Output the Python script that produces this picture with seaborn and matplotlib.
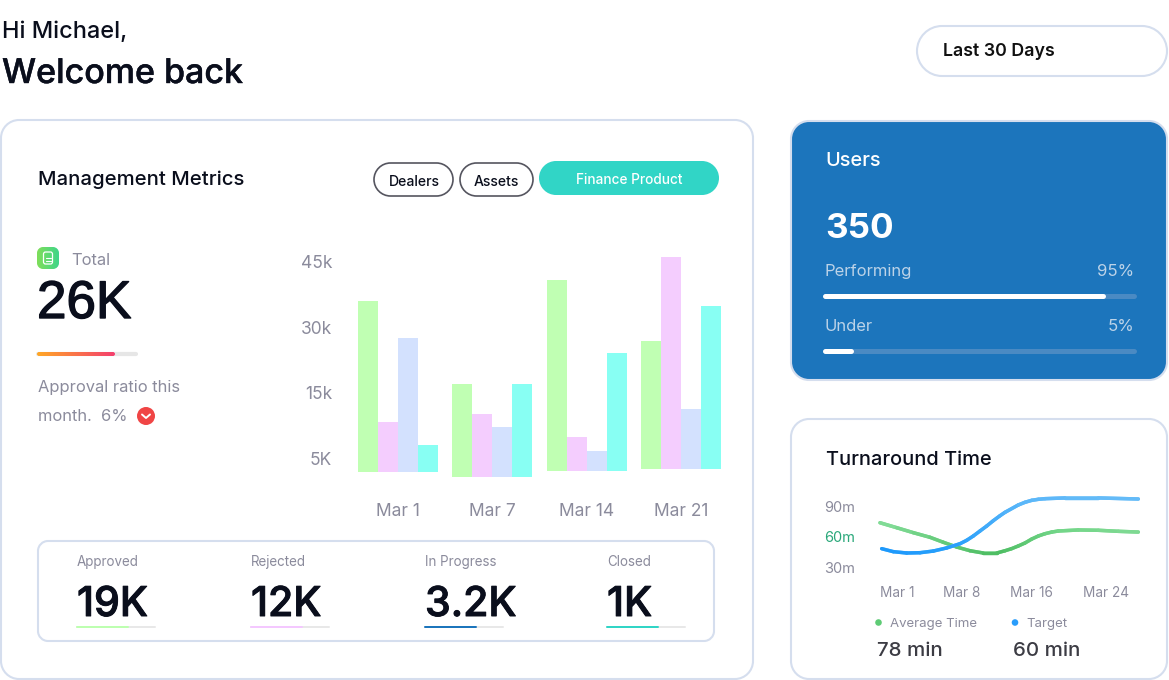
# Dashboard mock-up: management metrics bars, users card and turnaround lines.

import matplotlib

matplotlib.use("Agg")

import matplotlib.patheffects as pe
import matplotlib.pyplot as plt
import numpy as np
import pandas as pd
import seaborn as sns
from matplotlib.collections import LineCollection
from matplotlib.colors import to_rgb
from matplotlib.patches import Circle, PathPatch
from matplotlib.path import Path

WIDTH, HEIGHT = 1169, 680

BAR_DATES = ["Mar 1", "Mar 7", "Mar 14", "Mar 21"]
BAR_SERIES = ["Approved", "Rejected", "In Progress", "Closed"]
APPROVED = [39.1, 21.2, 43.6, 29.4]
REJECTED = [11.4, 14.3, 7.7, 48.5]
IN_PROGRESS = [30.5, 11.4, 4.5, 13.8]
CLOSED = [6.1, 21.2, 26.9, 37.4]
GROUP_BASELINES = [-3.0, -4.2, -2.8, -2.5]
BAR_COLORS = ["#c0ffb3", "#f4cdfe", "#d3e1fe", "#88fff3"]
BAR_TICKS = [0, 15, 30, 45]
BAR_TICK_LABELS = ["5K", "15k", "30k", "45k"]

# Turnaround time lines
AVG_DAYS = [-0.9, 0.97, 2.82, 4.69, 6.17, 7.67, 9.16, 10.64, 12.14, 13.07, 13.8, 14.55,
            15.3, 16.05, 16.8, 17.54, 18.3, 19.02, 21.26, 23.49, 25.73, 27.96]
AVG_TIME = [73.8, 69.0, 64.2, 59.7, 54.9, 50.3, 46.7, 44.5, 44.5, 46.7, 48.7, 51.3,
            54.2, 58.0, 61.0, 63.2, 64.8, 65.8, 66.8, 66.5, 65.5, 64.8]
TARGET_DAYS = [-0.71, 0.59, 2.08, 3.57, 5.06, 6.55, 8.04, 8.79, 9.53, 10.27, 11.02, 11.76,
               12.51, 13.07, 14.55, 15.3, 16.05, 16.8, 17.54, 19.77, 23.49, 27.96]
TARGET_TIME = [48.7, 45.8, 44.5, 44.8, 46.4, 49.4, 53.5, 56.8, 61.0, 65.8, 70.6, 75.8,
               80.6, 83.9, 91.0, 93.6, 95.5, 96.5, 97.1, 97.8, 97.8, 96.8]
LINE_TICKS = [1, 8.26, 16.06, 24.33]
LINE_TICK_LABELS = ["Mar 1", "Mar 8", "Mar 16", "Mar 24"]
LINE_Y_TICKS = [30, 60, 90]
LINE_Y_LABELS = ["30m", "60m", "90m"]
# colour along each line: day, colour
AVG_STOPS = ([-1, 12, 19, 28], ["#86de9b", "#4cbc61", "#72d588", "#80da93"])
TARGET_STOPS = ([-1, 8, 15, 28], ["#1b98fc", "#2aa0fb", "#5bb7f9", "#66bcf8"])

# Summary strip
STRIP_LABELS = ["Approved", "Rejected", "In Progress", "Closed"]
STRIP_VALUES = ["19K", "12K", "3.2K", "1K"]
STRIP_FILL = [0.65, 0.65, 0.65, 0.65]
STRIP_COLORS = ["#bdffb0", "#f4c8ff", "#1c75bc", "#31d5c6"]
STRIP_X = [77, 251, 425, 607]

# Users card
USER_LABELS = ["Performing", "Under"]
USER_PERCENT = ["95%", "5%"]
USER_FILL = [0.90, 0.085]

TOTAL_FILL = 0.78

INK = "#0a0e1c"
GREY = "#8b8b9c"
BORDER = "#d5deee"
BLUE_CARD = "#1c75bc"
TEAL = "#31d5c6"

FONT = "Inter"
KAPPA = 0.5523


def card(ax, x0, y0, x1, y1, r, face="white", edge=BORDER, lw=1.2, zorder=2):
    k = r * (1 - KAPPA)
    verts = [
        (x0 + r, y0), (x1 - r, y0),
        (x1 - k, y0), (x1, y0 + k), (x1, y0 + r),
        (x1, y1 - r),
        (x1, y1 - k), (x1 - k, y1), (x1 - r, y1),
        (x0 + r, y1),
        (x0 + k, y1), (x0, y1 - k), (x0, y1 - r),
        (x0, y0 + r),
        (x0, y0 + k), (x0 + k, y0), (x0 + r, y0),
    ]
    codes = [Path.MOVETO, Path.LINETO] + [Path.CURVE4] * 3 + [Path.LINETO] + [Path.CURVE4] * 3
    codes += [Path.LINETO] + [Path.CURVE4] * 3 + [Path.LINETO] + [Path.CURVE4] * 3
    box = PathPatch(Path(verts, codes), facecolor=face, edgecolor=edge, linewidth=lw, zorder=zorder)
    ax.add_patch(box)
    return box


def label(ax, x, y, text, px, color=INK, weight="normal", ha="left", va="baseline",
          family=FONT, stroke=0):
    # px is the font height in image pixels (dpi is 100)
    t = ax.text(x, y, text, fontsize=px * 0.72, color=color, fontweight=weight,
                ha=ha, va=va, family=family, zorder=6)
    if stroke:
        # the big figures are heavier in the design than the installed weights
        t.set_path_effects([pe.withStroke(linewidth=stroke, foreground=color)])


def progress(ax, x0, x1, y, fill, color, track, px):
    lw = px * 0.72
    ax.plot([x0, x1], [y, y], color=track, lw=lw, solid_capstyle="round", zorder=4)
    ax.plot([x0, x0 + fill * (x1 - x0)], [y, y], color=color, lw=lw, solid_capstyle="round", zorder=5)


def gradient_box(ax, x0, y0, x1, y1, radius, left, right):
    colors = np.linspace(to_rgb(left), to_rgb(right), 64).reshape(1, 64, 3)
    image = ax.imshow(colors, extent=(x0, x1, y1, y0), aspect="auto", zorder=3)
    clip = card(ax, x0, y0, x1, y1, radius, face="none", edge="none", lw=0)
    image.set_clip_path(clip)


sns.set_theme(style="white")
plt.rcParams["font.family"] = [FONT, "DejaVu Sans"]

fig = plt.figure(figsize=(WIDTH / 100, HEIGHT / 100), dpi=100, facecolor="white")

# full-size axes in image pixels for the cards and the text
page = fig.add_axes([0, 0, 1, 1])
page.set_axis_off()

# header
label(page, 2, 38, "Hi Michael,", 23.5, weight="medium")
label(page, 2, 83, "Welcome back", 34, weight="medium", stroke=0.3)
card(page, 917, 26, 1167, 76, 25, lw=1.5)
label(page, 943, 56, "Last 30 Days", 17.8, color="#111111", weight="semibold")

# cards
card(page, 1, 120, 753, 679, 18, lw=1.5)
card(page, 791, 121, 1167, 380, 18, face=BLUE_CARD, lw=1.5)
card(page, 791, 419, 1167, 679, 18, lw=1.5)
card(page, 38, 541, 714, 641, 10, lw=1.5)

# management metrics header
label(page, 37.5, 185, "Management Metrics", 20.3, weight="medium")
card(page, 374, 163, 453, 196, 16.5, edge="#55555f", lw=1.2)
card(page, 460, 163, 533, 196, 16.5, edge="#55555f", lw=1.2)
card(page, 539, 161, 719, 195, 17, face=TEAL, edge=TEAL, lw=0)
label(page, 414, 185.5, "Dealers", 14, ha="center", weight="medium")
label(page, 496.5, 185.5, "Assets", 14, ha="center", weight="medium")
label(page, 629, 184, "Finance Product", 13.6, color="white", ha="center", weight="medium")

# total block
gradient_box(page, 37, 247, 59, 269, 6, "#7fde5a", "#3fd58a")
card(page, 43.5, 252, 52.5, 264, 2, face="none", edge="white", lw=0.9, zorder=5)
page.plot([45.5, 50.5], [258, 258], color="white", lw=0.8, zorder=5)
page.plot([45.5, 50.5], [261, 261], color="white", lw=0.8, zorder=5)
label(page, 71, 265, "Total", 16.5, color=GREY)
label(page, 37, 318, "26K", 53, family="Liberation Sans", stroke=1.0)

page.plot([38, 136], [354, 354], color="#e6e6e6", lw=3, solid_capstyle="round", zorder=2)
gradient_box(page, 37, 352, 37 + TOTAL_FILL * 100, 356, 2, "#ffa726", "#f43f6e")

label(page, 38, 392, "Approval ratio this", 16.5, color=GREY)
label(page, 38, 421, "month.  6%", 16.5, color=GREY)
page.add_patch(Circle((146, 416), 9, facecolor="#f04545", edgecolor="none", zorder=4))
page.plot([142, 146, 150], [414.5, 418, 414.5], color="white", lw=1.4,
          solid_capstyle="round", solid_joinstyle="round", zorder=5)

# summary strip
for x, name, value, fill, color in zip(STRIP_X, STRIP_LABELS, STRIP_VALUES, STRIP_FILL, STRIP_COLORS):
    label(page, x, 566, name, 13.4, color=GREY)
    label(page, x, 616, value, 41, weight="medium", stroke=0.7)
    progress(page, x, x + 78, 627, fill, color, "#e8e8e8", 2)

# users card
label(page, 825, 166, "Users", 20, color="white", weight="medium")
label(page, 825, 238, "350", 35, color="white", weight="bold")
for y, name, percent, fill in zip([276, 331], USER_LABELS, USER_PERCENT, USER_FILL):
    label(page, 825, y, name, 16.6, color="#bcd3e8")
    label(page, 1134, y, percent, 16.8, color="#bcd3e8", ha="right")
    progress(page, 825, 1134, y + 19.5, fill, "white", "#4a8ac3", 5)

# turnaround card text
label(page, 825.5, 465, "Turnaround Time", 20, weight="medium")
page.add_patch(Circle((878.5, 622.5), 3.3, facecolor="#5ecb75", edgecolor="none", zorder=4))
page.add_patch(Circle((1015, 622.5), 3.3, facecolor="#2a9dfb", edgecolor="none", zorder=4))
label(page, 890, 627.5, "Average Time", 13.2, color=GREY)
label(page, 1026, 627.5, "Target", 13.2, color=GREY)
label(page, 877, 656.5, "78 min", 20.5, color="#3c3c44", weight="medium")
label(page, 1013, 656.5, "60 min", 20.5, color="#3c3c44", weight="medium")

page.set_xlim(0, WIDTH)
page.set_ylim(HEIGHT, 0)


def pixel_axes(x0, y0, x1, y1):
    ax = fig.add_axes([x0 / WIDTH, 1 - y1 / HEIGHT, (x1 - x0) / WIDTH, (y1 - y0) / HEIGHT])
    ax.patch.set_alpha(0)
    sns.despine(ax=ax, left=True, bottom=True)
    return ax


# grouped bars
bars = pd.DataFrame(
    {
        "date": BAR_DATES * 4,
        "series": np.repeat(BAR_SERIES, 4),
        "value": APPROVED + REJECTED + IN_PROGRESS + CLOSED,
    }
)
ax_bars = pixel_axes(350.8, 250, 728, 490)
sns.barplot(
    data=bars,
    x="date",
    y="value",
    hue="series",
    hue_order=BAR_SERIES,
    palette=BAR_COLORS,
    width=0.848,
    bottom=GROUP_BASELINES,
    legend=False,
    saturation=1,
    linewidth=0,
    ax=ax_bars,
)
ax_bars.set_xlim(-0.5, 3.5)
ax_bars.set_ylim(-7.2, 47.7)
ax_bars.set_yticks(BAR_TICKS, BAR_TICK_LABELS)
ax_bars.set_xlabel("")
ax_bars.set_ylabel("")
ax_bars.tick_params(axis="x", length=0, pad=9, labelsize=12.5, labelcolor=GREY)
ax_bars.tick_params(axis="y", length=0, pad=13.5, labelsize=12.5, labelcolor=GREY)

# turnaround lines
ax_line = pixel_axes(870, 490, 1150, 575)
for days, minutes, (stop_days, stop_colors) in [
    (AVG_DAYS, AVG_TIME, AVG_STOPS),
    (TARGET_DAYS, TARGET_TIME, TARGET_STOPS),
]:
    sns.lineplot(x=days, y=minutes, color=stop_colors[-1], linewidth=2.5, sort=False,
                 errorbar=None, solid_capstyle="round", ax=ax_line)
    # recolour along the path, the design fades the stroke toward the ends
    xy = ax_line.lines[-1].get_xydata()
    rgb = np.array([to_rgb(c) for c in stop_colors])
    mids = (xy[:-1, 0] + xy[1:, 0]) / 2
    seg_colors = np.column_stack([np.interp(mids, stop_days, rgb[:, i]) for i in range(3)])
    ax_line.add_collection(LineCollection(
        np.stack([xy[:-1], xy[1:]], axis=1), colors=seg_colors, linewidths=2.5, capstyle="round"))

ax_line.set_xlim((870 - 897) / 8.95 + 1, (1150 - 897) / 8.95 + 1)
ax_line.set_ylim(60 + (537 - 575) / 1.033, 60 + (537 - 490) / 1.033)
ax_line.set_xticks(LINE_TICKS, LINE_TICK_LABELS)
ax_line.set_yticks(LINE_Y_TICKS, LINE_Y_LABELS)
ax_line.tick_params(axis="x", length=0, pad=8, labelsize=9.8, labelcolor=GREY)
ax_line.tick_params(axis="y", length=0, pad=11, labelsize=10.5, labelcolor=GREY)
ax_line.get_yticklabels()[1].set_color("#2aa87a")

fig.savefig("out.png", dpi=100)
